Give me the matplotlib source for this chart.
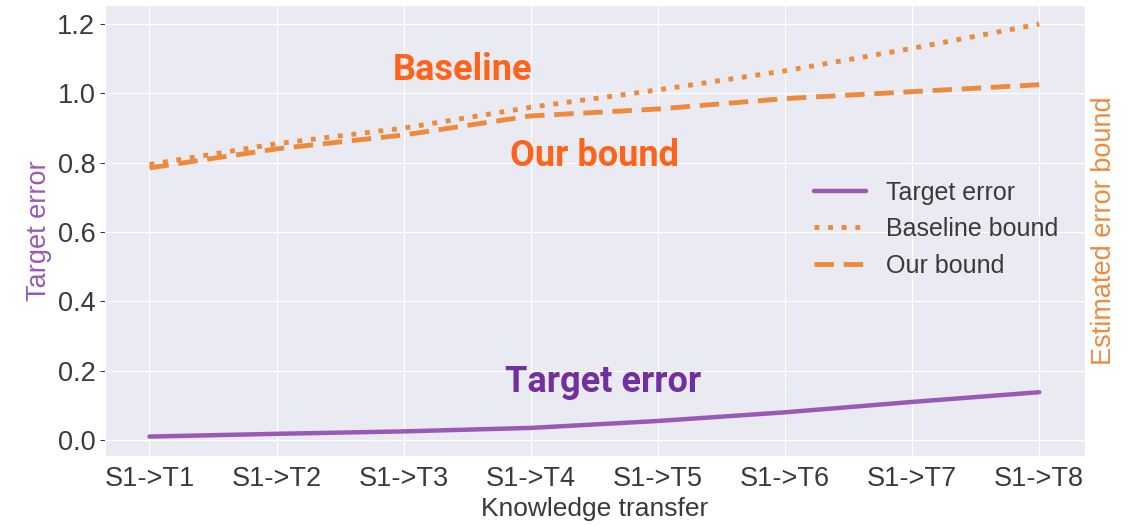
import matplotlib
matplotlib.use("Agg")
import matplotlib.pyplot as plt
import seaborn as sns

transfers = ["S1->T1", "S1->T2", "S1->T3", "S1->T4", "S1->T5", "S1->T6", "S1->T7", "S1->T8"]
target_error = [0.010, 0.018, 0.025, 0.035, 0.055, 0.080, 0.110, 0.138]
baseline_bound = [0.795, 0.855, 0.900, 0.960, 1.010, 1.065, 1.130, 1.200]
our_bound = [0.785, 0.840, 0.880, 0.935, 0.955, 0.985, 1.005, 1.025]

purple = "#9b59b6"
orange = "#ee8a3c"
text_grey = "#3a3a3a"

sns.set_style("darkgrid")
plt.rcParams["font.family"] = ["Liberation Sans", "DejaVu Sans"]

fig = plt.figure(figsize=(11.32, 5.26), dpi=100)
ax = fig.add_axes([105 / 1132, 1 - 456 / 526, (1085 - 105) / 1132, (456 - 5) / 526])
x = range(len(transfers))

ax.plot(x, target_error, color=purple, lw=3.2, label="Target error")
ax.plot(x, baseline_bound, color=orange, lw=3.5, ls=(0, (1, 1.8)), label="Baseline bound")
ax.plot(x, our_bound, color=orange, lw=3.5, ls=(0, (4, 2)), label="Our bound")

ax.set_xlim(-0.35, 7.36)
ax.set_ylim(-0.046, 1.255)
ax.set_xticks(list(x))
ax.set_xticklabels(transfers)
ax.set_yticks([0.0, 0.2, 0.4, 0.6, 0.8, 1.0, 1.2])
ax.tick_params(labelsize=19.5, colors=text_grey)
ax.set_xlabel("Knowledge transfer", fontsize=19, color=text_grey, labelpad=4)
ax.set_ylabel("Target error", fontsize=19.5, color=purple)

# right-hand label only, the bounds share the same scale
ax2 = ax.twinx()
ax2.set_ylim(ax.get_ylim())
ax2.set_yticks([])
ax2.grid(False)
ax2.set_ylabel("Estimated error bound", fontsize=19.5, color=orange)

ax.legend(loc="center left", bbox_to_anchor=(0.70, 0.503), fontsize=18,
          frameon=False, handlelength=2.1, labelcolor=text_grey)

ax.text(2.46, 1.068, "Baseline", color="#ff6319", fontsize=26, fontweight="bold",
        family="Roboto", ha="center", va="center")
ax.text(3.5, 0.82, "Our bound", color="#ff6319", fontsize=26, fontweight="bold",
        family="Roboto", ha="center", va="center")
ax.text(3.57, 0.167, "Target error", color="#7030a0", fontsize=26, fontweight="bold",
        family="Roboto", ha="center", va="center")

fig.savefig("out.png", dpi=100)
